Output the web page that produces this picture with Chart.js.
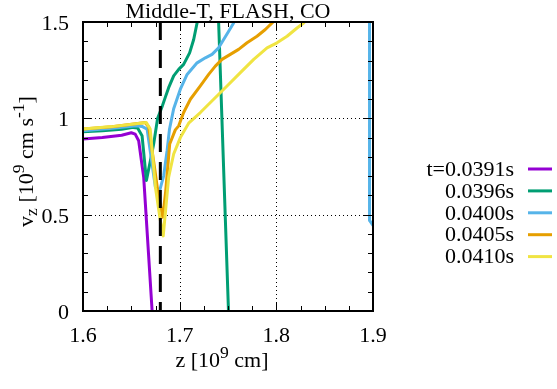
<!DOCTYPE html>
<html>
<head>
<meta charset="utf-8">
<script src="https://cdn.jsdelivr.net/npm/chart.js@4.4.1/dist/chart.umd.min.js"></script>
<style>
  html, body { margin: 0; padding: 0; background: #ffffff; }
  #wrap { width: 557px; height: 389px; position: relative; }
</style>
</head>
<body>
<div id="wrap"><canvas id="chart" width="557" height="389"></canvas></div>
<script>
// Vertical velocity profiles v_z(z) at five times, Middle-T FLASH CO model
const seriesLabels = ['t=0.0391s', '0.0396s', '0.0400s', '0.0405s', '0.0410s'];
const seriesColors = ['#9400d3', '#009e73', '#56b4e9', '#e69f00', '#f0e442'];

// z in 1e9 cm, v_z in 1e9 cm/s
const zT0391 = [1.600, 1.620, 1.640, 1.650, 1.654, 1.6576, 1.6628, 1.6715, 1.676];
const vT0391 = [0.893, 0.900, 0.912, 0.925, 0.918, 0.884, 0.694, 0.000, -0.36];

const zT0396 = [1.600, 1.620, 1.640, 1.652, 1.6565, 1.6611, 1.6656, 1.6697, 1.6731, 1.6772, 1.6818, 1.6852,
                1.6886, 1.6938, 1.699, 1.7041, 1.7103, 1.7145, 1.718, 1.729, 1.7403, 1.7505, 1.754];
const vT0396 = [0.930, 0.935, 0.943, 0.953, 0.950, 0.910, 0.677, 0.780, 0.867, 1.000, 1.060, 1.110,
                1.159, 1.220, 1.254, 1.280, 1.340, 1.409, 1.495, 2.800, 1.500, 0.000, -0.50];

const zT0400 = [1.600, 1.630, 1.655, 1.661, 1.6663, 1.6749, 1.6793, 1.6835, 1.687, 1.6895, 1.6938, 1.7007,
                1.7077, 1.718, 1.7266, 1.7335, 1.7403, 1.7455, 1.7507, 1.7558, 1.775, 1.8964, 1.8964, 1.920];
const vT0400 = [0.935, 0.948, 0.962, 0.958, 0.944, 0.642, 0.625, 0.703, 0.832, 0.945, 1.050, 1.151,
                1.228, 1.288, 1.314, 1.332, 1.366, 1.409, 1.452, 1.495, 2.100, 3.000, 0.470, 0.300];

const zT0405 = [1.600, 1.630, 1.6645, 1.668, 1.673, 1.678, 1.6825, 1.6855, 1.6897, 1.6955, 1.699, 1.7041,
                1.7111, 1.7214, 1.730, 1.7369, 1.7438, 1.7524, 1.761, 1.7697, 1.780, 1.7886, 1.7956, 1.810];
const vT0405 = [0.945, 0.956, 0.978, 0.955, 0.780, 0.600, 0.487, 0.620, 0.867, 0.940, 0.961, 1.030,
                1.099, 1.168, 1.228, 1.271, 1.306, 1.332, 1.358, 1.392, 1.426, 1.461, 1.495, 1.580];

const zT0410 = [1.600, 1.630, 1.6655, 1.6695, 1.675, 1.680, 1.683, 1.6886, 1.6938, 1.7007, 1.7093, 1.7214,
                1.7352, 1.749, 1.7628, 1.7766, 1.7904, 1.8007, 1.8111, 1.8214, 1.8282, 1.840];
const vT0410 = [0.944, 0.957, 0.978, 0.945, 0.640, 0.470, 0.390, 0.694, 0.815, 0.900, 0.975, 1.030,
                1.099, 1.168, 1.237, 1.306, 1.366, 1.392, 1.426, 1.469, 1.495, 1.560];

// reference position (dashed vertical line)
const markZ = [1.68, 1.68];
const markV = [1.5, 0.0];

// axes
const xMajor = [1.6, 1.7, 1.8, 1.9];
const xMajorLabels = ['1.6', '1.7', '1.8', '1.9'];
const xMinorStep = 0.025;
const yMajor = [0, 0.5, 1, 1.5];
const yMajorLabels = ['0', '0.5', '1', '1.5'];
const yMinorStep = 0.1;

const titleText = 'Middle-T, FLASH, CO';
const xTitleParts = [{ t: 'z [10' }, { t: '9', sup: true }, { t: ' cm]' }];
const yTitleParts = [{ t: 'v' }, { t: 'z', sub: true }, { t: ' [10' }, { t: '9', sup: true },
                     { t: ' cm s' }, { t: '-1', sup: true }, { t: ']' }];

const FONT = '"Liberation Serif", "DejaVu Serif", serif';
const FS = 22;

const zs = [zT0391, zT0396, zT0400, zT0405, zT0410];
const vs = [vT0391, vT0396, vT0400, vT0405, vT0410];

function toPoints(z, v) { return z.map((x, i) => ({ x: x, y: v[i] })); }

const datasets = seriesLabels.map((lab, i) => ({
  label: lab,
  data: toPoints(zs[i], vs[i]),
  borderColor: seriesColors[i],
  backgroundColor: seriesColors[i],
  borderWidth: 3,
  pointRadius: 0,
  tension: 0,
  fill: false,
  order: 6 - i
}));
datasets.push({
  label: 'mark',
  data: toPoints(markZ, markV),
  borderColor: '#000000',
  borderWidth: 3,
  borderDash: [18, 10],
  pointRadius: 0,
  fill: false,
  order: 0
});

function richWidth(ctx, parts) {
  let w = 0;
  parts.forEach(p => {
    const s = (p.sup || p.sub) ? FS * 0.8 : FS;
    ctx.font = s + 'px ' + FONT;
    w += ctx.measureText(p.t).width;
  });
  return w;
}
function drawRich(ctx, parts, cx, baseY) {
  const total = richWidth(ctx, parts);
  let x = cx - total / 2;
  ctx.textAlign = 'left';
  ctx.textBaseline = 'alphabetic';
  parts.forEach(p => {
    const s = (p.sup || p.sub) ? FS * 0.8 : FS;
    ctx.font = s + 'px ' + FONT;
    let y = baseY;
    if (p.sup) y -= FS * 0.4;
    if (p.sub) y += FS * 0.2;
    ctx.fillText(p.t, x, y);
    x += ctx.measureText(p.t).width;
  });
}

const gnuFrame = {
  id: 'gnuFrame',
  beforeDatasetsDraw(chart) {
    const ctx = chart.ctx, a = chart.chartArea;
    const xs = chart.scales.x, ys = chart.scales.y;
    ctx.save();
    ctx.strokeStyle = '#000';
    ctx.lineWidth = 1;
    ctx.setLineDash([1, 3]);
    xMajor.forEach(v => {
      if (v <= xs.min || v >= xs.max) return;
      const px = Math.round(xs.getPixelForValue(v)) + 0.5;
      ctx.beginPath(); ctx.moveTo(px, a.top); ctx.lineTo(px, a.bottom); ctx.stroke();
    });
    yMajor.forEach(v => {
      if (v <= ys.min || v >= ys.max) return;
      const py = Math.round(ys.getPixelForValue(v)) + 0.5;
      ctx.beginPath(); ctx.moveTo(a.left, py); ctx.lineTo(a.right, py); ctx.stroke();
    });
    ctx.restore();
  },
  afterDatasetsDraw(chart) {
    const ctx = chart.ctx, a = chart.chartArea;
    const xs = chart.scales.x, ys = chart.scales.y;
    ctx.save();
    ctx.setLineDash([]);
    ctx.strokeStyle = '#000';
    ctx.fillStyle = '#000';

    // tick marks on all four sides, pointing inward
    ctx.lineWidth = 1;
    const tick = (x1, y1, x2, y2) => { ctx.beginPath(); ctx.moveTo(x1, y1); ctx.lineTo(x2, y2); ctx.stroke(); };
    const nx = Math.round((xs.max - xs.min) / xMinorStep);
    for (let i = 0; i <= nx; i++) {
      const v = xs.min + i * xMinorStep;
      const major = xMajor.some(m => Math.abs(m - v) < 1e-6);
      const L = major ? 9 : 5;
      const px = Math.round(xs.getPixelForValue(v)) + 0.5;
      tick(px, a.bottom, px, a.bottom - L);
      tick(px, a.top, px, a.top + L);
    }
    const ny = Math.round((ys.max - ys.min) / yMinorStep);
    for (let i = 0; i <= ny; i++) {
      const v = ys.min + i * yMinorStep;
      const major = yMajor.some(m => Math.abs(m - v) < 1e-6);
      const L = major ? 9 : 5;
      const py = Math.round(ys.getPixelForValue(v)) + 0.5;
      tick(a.left, py, a.left + L, py);
      tick(a.right, py, a.right - L, py);
    }

    // border
    ctx.lineWidth = 2;
    ctx.strokeRect(a.left, a.top, a.right - a.left, a.bottom - a.top);

    // tick labels
    ctx.font = FS + 'px ' + FONT;
    ctx.textBaseline = 'alphabetic';
    ctx.textAlign = 'center';
    xMajor.forEach((v, i) => ctx.fillText(xMajorLabels[i], xs.getPixelForValue(v), a.bottom + 31));
    ctx.textAlign = 'right';
    yMajor.forEach((v, i) => ctx.fillText(yMajorLabels[i], a.left - 14, ys.getPixelForValue(v) + 8));

    // title
    ctx.textAlign = 'center';
    ctx.fillText(titleText, (a.left + a.right) / 2, a.top - 4);

    // axis titles
    drawRich(ctx, xTitleParts, (a.left + a.right) / 2 - 6, a.bottom + 56);
    ctx.save();
    ctx.translate(33, (a.top + a.bottom) / 2 - 5);
    ctx.rotate(-Math.PI / 2);
    drawRich(ctx, yTitleParts, 0, 0);
    ctx.restore();

    // key
    ctx.font = FS + 'px ' + FONT;
    ctx.textAlign = 'right';
    ctx.textBaseline = 'middle';
    seriesLabels.forEach((lab, i) => {
      const y = 169 + i * 21.9;
      ctx.fillStyle = '#000';
      ctx.fillText(lab, 514, y + 1);
      ctx.strokeStyle = seriesColors[i];
      ctx.lineWidth = 3;
      ctx.beginPath(); ctx.moveTo(528, y); ctx.lineTo(552, y); ctx.stroke();
    });
    ctx.restore();
  }
};

function build() {
  new Chart(document.getElementById('chart'), {
    type: 'line',
    data: { datasets: datasets },
    options: {
      responsive: false,
      animation: false,
      devicePixelRatio: 1,
      layout: { padding: { left: 83, right: 184, top: 22, bottom: 78 } },
      scales: {
        x: { type: 'linear', min: 1.6, max: 1.9, display: false },
        y: { type: 'linear', min: 0, max: 1.5, display: false }
      },
      elements: { line: { borderJoinStyle: 'round', borderCapStyle: 'butt' } },
      plugins: { legend: { display: false }, tooltip: { enabled: false }, title: { display: false } }
    },
    plugins: [gnuFrame]
  });
}

if (document.fonts && document.fonts.load) {
  document.fonts.load(FS + 'px "Liberation Serif"').then(build, build);
} else {
  build();
}
</script>
</body>
</html>
